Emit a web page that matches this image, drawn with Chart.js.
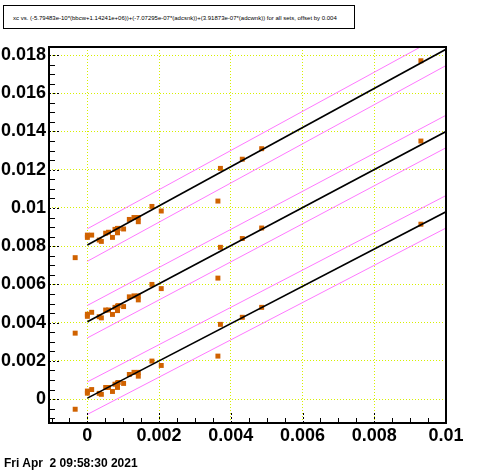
<!DOCTYPE html>
<html>
<head>
    <meta charset="UTF-8">
    <title>xc fit</title>
    <script src="https://cdn.jsdelivr.net/npm/chart.js"></script>
    <style>
        body { margin: 0; background: #fff; }
        #wrap { position: relative; width: 496px; height: 472px; }
        #titleBox {
            position: absolute; left: 3px; top: 5px; width: 352px; height: 24px;
            border: 1px solid #000; background: #fff;
            font-family: "Liberation Sans", Arial, sans-serif; font-size: 6px;
            line-height: 24px; padding-left: 9px; box-sizing: border-box; white-space: nowrap;
        }
        #dateText {
            position: absolute; left: 4px; top: 456px;
            font-family: "Liberation Sans", Arial, sans-serif; font-size: 12px; font-weight: bold;
            white-space: pre;
        }
    </style>
</head>
<body>
<div id="wrap">
    <canvas id="fitChart" width="496" height="472"></canvas>
    <div id="titleBox">xc vs. (-5.79483e-10*(bbcw+1.14241e+06))+(-7.07295e-07*(adcsnk))+(3.91873e-07*(adcwnk)) for all sets, offset by 0.004</div>
    <div id="dateText">Fri Apr  2 09:58:30 2021</div>
</div>
<script>
    // x values (same for every set)
    const xValues = [-0.00034, 0.0000, 0.0000, 0.00012, 0.00033, 0.00039, 0.00051, 0.00059, 0.00070, 0.00077,
        0.00084, 0.00086, 0.00084, 0.00101, 0.00117, 0.00130, 0.00142, 0.00142, 0.00180, 0.00206,
        0.00364, 0.00371, 0.00432, 0.00486, 0.00930];
    // y values per set (sets shifted by 0.004)
    const set0 = [-0.00053, 0.00031, 0.00042, 0.00050, 0.00030, 0.00025, 0.00061, 0.00061, 0.00040, 0.00078,
        0.00084, 0.00087, 0.00061, 0.00082, 0.00129, 0.00140, 0.00140, 0.00120, 0.00199, 0.00176,
        0.00225, 0.00391, 0.00428, 0.00480, 0.00915];
    const set1 = [0.00345, 0.00433, 0.00444, 0.00454, 0.00431, 0.00425, 0.00466, 0.00466, 0.00443, 0.00480,
        0.00486, 0.00489, 0.00463, 0.00484, 0.00535, 0.00540, 0.00540, 0.00519, 0.00600, 0.00578,
        0.00633, 0.00794, 0.00840, 0.00895, 0.01350];
    const set2 = [0.00740, 0.00846, 0.00858, 0.00858, 0.00832, 0.00825, 0.00868, 0.00873, 0.00846, 0.00888,
        0.00893, 0.00893, 0.00870, 0.00890, 0.00940, 0.00950, 0.00950, 0.00928, 0.01008, 0.00984,
        0.01036, 0.01207, 0.01255, 0.01310, 0.01770];
    // fitted lines: value at x=0 and x=0.01, and half width of pink band
    const fitX = [0, 0.01];
    const fitStart = [0.00005, 0.00405, 0.00806];
    const fitEnd = [0.0098, 0.0140, 0.0183];
    const band = 0.00085;

    const xMin = -0.00107, xMax = 0.01;
    const yMin = -0.00125, yMax = 0.01842;

    const gridColor = "rgb(215,240,0)";
    const font = { family: "Liberation Sans", size: 18, weight: "bold" };

    function isMajor(v) {
        return Math.abs(Math.round(v / 0.002) * 0.002 - v) < 1e-9;
    }
    function fineTicks(scale) {
        const ticks = [];
        for (let k = Math.ceil(scale.min / 0.0005 - 1e-6); k * 0.0005 <= scale.max + 1e-9; k++) {
            ticks.push({ value: k * 5 / 10000 });
        }
        scale.ticks = ticks;
    }
    function label(v) {
        if (!isMajor(v)) return "";
        if (Math.abs(v) < 1e-9) return "0";
        return String(+v.toFixed(3));
    }

    const datasets = [];
    const sets = [set0, set1, set2];
    sets.forEach((ys, s) => {
        const line = fitX.map((x, i) => ({ x: x, y: i === 0 ? fitStart[s] : fitEnd[s] }));
        datasets.push({ type: "line", data: line.map(p => ({ x: p.x, y: p.y + band })), borderColor: "rgb(255,120,255)", borderWidth: 1, pointRadius: 0 });
        datasets.push({ type: "line", data: line.map(p => ({ x: p.x, y: p.y - band })), borderColor: "rgb(255,120,255)", borderWidth: 1, pointRadius: 0 });
        datasets.push({ type: "line", data: line, borderColor: "#000", borderWidth: 1.6, pointRadius: 0 });
    });
    sets.forEach(ys => {
        datasets.push({
            type: "scatter",
            data: xValues.map((x, i) => ({ x: x, y: ys[i] })),
            pointStyle: "rect", pointRadius: 3.5, borderWidth: 0,
            backgroundColor: "rgb(208,98,0)", order: 5
        });
    });

    const frameTicks = {
        id: "frameTicks",
        afterDraw(chart) {
            const c = chart.ctx, a = chart.chartArea;
            const xs = chart.scales.x, ys = chart.scales.y;
            c.save();
            c.strokeStyle = "#000";
            c.lineWidth = 1;
            xs.ticks.forEach(t => {
                const px = Math.round(xs.getPixelForValue(t.value)) + 0.5;
                c.setLineDash(isMajor(t.value) ? [2, 2] : []);
                c.beginPath();
                c.moveTo(px, a.bottom);
                c.lineTo(px, a.bottom - (isMajor(t.value) ? 11 : 5));
                c.stroke();
            });
            ys.ticks.forEach(t => {
                const py = Math.round(ys.getPixelForValue(t.value)) + 0.5;
                c.setLineDash(isMajor(t.value) ? [2, 2] : []);
                c.beginPath();
                c.moveTo(a.left, py);
                c.lineTo(a.left + (isMajor(t.value) ? 11 : 6), py);
                c.stroke();
            });
            c.setLineDash([]);
            c.lineWidth = 2;
            c.strokeRect(a.left, a.top, a.right - a.left, a.bottom - a.top);
            c.restore();
        }
    };

    const ctx = document.getElementById("fitChart").getContext("2d");
    new Chart(ctx, {
        data: { datasets: datasets },
        options: {
            responsive: false,
            animation: false,
            devicePixelRatio: 1,
            layout: { padding: { left: 0, top: 47, right: 50, bottom: 0 } },
            plugins: { legend: { display: false }, tooltip: { enabled: false } },
            scales: {
                x: {
                    type: "linear", min: xMin, max: xMax,
                    afterBuildTicks: fineTicks,
                    afterFit: s => { s.height = 49; },
                    grid: { color: c => isMajor(c.tick.value) ? gridColor : "rgba(0,0,0,0)", drawTicks: false, lineWidth: 1 },
                    border: { display: false, dash: [1, 2] },
                    ticks: { callback: label, autoSkip: false, maxRotation: 0, padding: 2, color: "#000", font: font }
                },
                y: {
                    type: "linear", min: yMin, max: yMax,
                    afterBuildTicks: fineTicks,
                    afterFit: s => { s.width = 49; },
                    grid: { color: c => isMajor(c.tick.value) ? gridColor : "rgba(0,0,0,0)", drawTicks: false, lineWidth: 1 },
                    border: { display: false, dash: [1, 2] },
                    ticks: { callback: label, autoSkip: false, padding: 3, color: "#000", font: font }
                }
            }
        },
        plugins: [frameTicks]
    });
</script>
</body>
</html>
